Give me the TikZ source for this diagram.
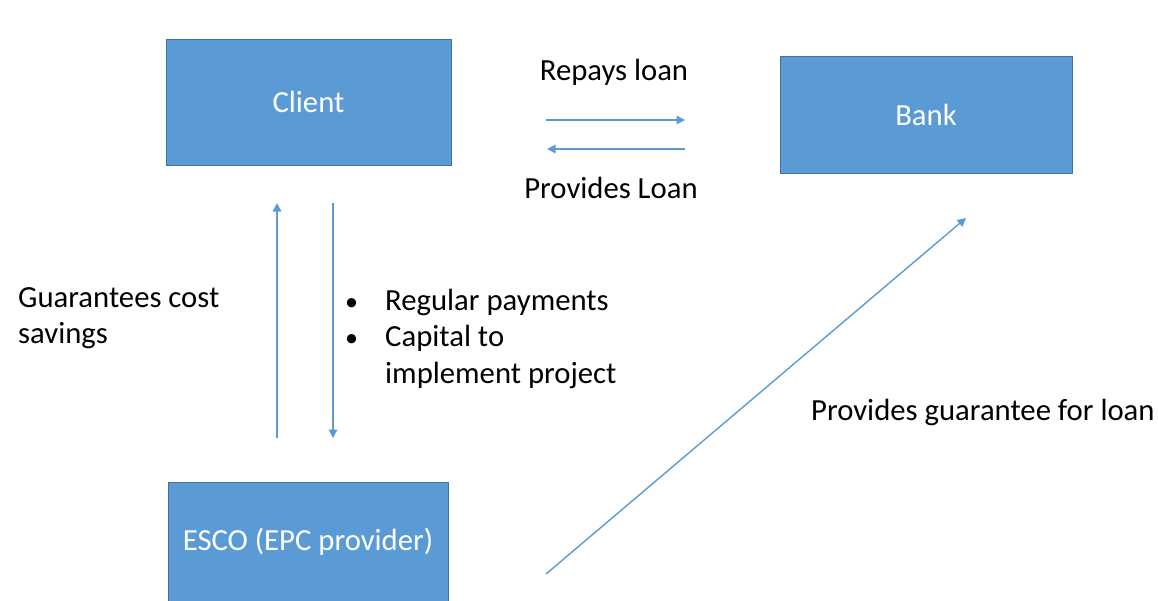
\documentclass[tikz,border=0pt]{standalone}
\usepackage{fontspec}
\setmainfont{Carlito}
\usetikzlibrary{arrows.meta}
\definecolor{boxblue}{HTML}{5B9BD5}
\definecolor{boxline}{HTML}{41719C}
\begin{document}
\begin{tikzpicture}[x=1pt, y=-1pt,
    box/.style = {draw=boxline, fill=boxblue, text=white, line width=1pt, inner sep=0pt, font=\fontsize{30.7}{36}\selectfont},
    link/.style = {draw=boxblue, line width=1.4pt, -{Triangle[width=8.5pt,length=8.5pt]}},
    lbl/.style = {inner sep=0pt, text=black, font=\fontsize{30.7}{36}\selectfont}]
            \useasboundingbox (0,0) rectangle (1158,600);
            \node[box, minimum width=285pt, minimum height=126pt] (client) at (308.5,102) {Client};
            \node[box, minimum width=292pt, minimum height=117pt] (bank) at (926,114.5) {Bank};
            \node[box, minimum width=280pt, minimum height=120pt] (esco) at (308,542) {ESCO (EPC provider)};
            \node[lbl, anchor=base] (repays) at (614,80) {Repays loan};
            \node[lbl, anchor=base] (provides) at (611,198) {Provides Loan};
            \node[lbl, anchor=base west] (savings) at (18,307) {\begin{tabular}[t]{@{}l@{}}Guarantees cost\\savings\end{tabular}};
            \node[lbl, anchor=base west] (payments) at (345,310) {\renewcommand{\arraystretch}{1.02}\begin{tabular}[t]{@{}l@{\hspace{27pt}}l@{}}\scalebox{0.85}{\textbullet} & Regular payments\\\scalebox{0.85}{\textbullet} & Capital to\\ & implement project\end{tabular}};
            \node[lbl, anchor=base west] (guarantee) at (811,420) {Provides guarantee for loan};
            % arrow ends
            \coordinate (r1) at (546,120);
            \coordinate (r2) at (685,120);
            \coordinate (p1) at (685,149);
            \coordinate (p2) at (547,149);
            \coordinate (u1) at (277,438);
            \coordinate (u2) at (277,203);
            \coordinate (d1) at (333,203);
            \coordinate (d2) at (333,438);
            \coordinate (g1) at (546,574);
            \coordinate (g2) at (966,218);
            \draw[link] (r1) -- (r2);
            \draw[link] (p1) -- (p2);
            \draw[link] (u1) -- (u2);
            \draw[link] (d1) -- (d2);
            \draw[link] (g1) -- (g2);
\end{tikzpicture}
\end{document}
